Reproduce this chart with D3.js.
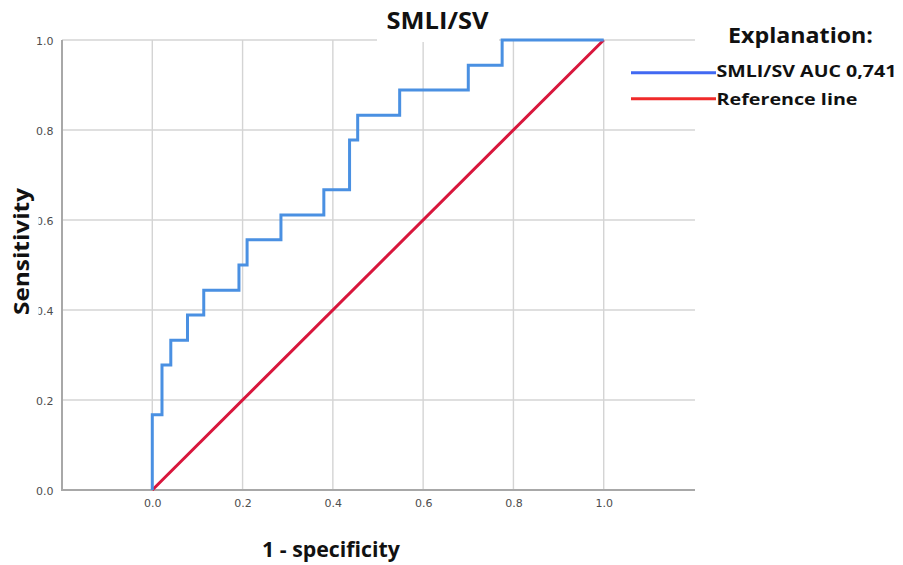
<!DOCTYPE html>
<html>
<head>
<meta charset="utf-8">
<script src="https://cdn.jsdelivr.net/npm/d3@7"></script>
<style>
  html, body { margin: 0; padding: 0; background: #fff; }
  svg { display: block; }
</style>
</head>
<body>
<svg id="chart" width="903" height="565"></svg>
<script>
// ROC curve coordinates (1 - specificity, sensitivity)
const fpr = [0, 0, 0.0215, 0.0215, 0.041, 0.041, 0.078, 0.078, 0.114, 0.114,
             0.192, 0.192, 0.21, 0.21, 0.285, 0.285, 0.38, 0.38, 0.437, 0.437,
             0.455, 0.455, 0.548, 0.548, 0.70, 0.70, 0.775, 0.775, 1.0];
const tpr = [0, 0.167, 0.167, 0.278, 0.278, 0.333, 0.333, 0.389, 0.389, 0.444,
             0.444, 0.5, 0.5, 0.556, 0.556, 0.611, 0.611, 0.667, 0.667, 0.778,
             0.778, 0.833, 0.833, 0.889, 0.889, 0.944, 0.944, 1.0, 1.0];
// Diagonal reference line
const refX = [0, 1];
const refY = [0, 1];

const xTicks = [0, 0.2, 0.4, 0.6, 0.8, 1.0];
const yTicks = [0, 0.2, 0.4, 0.6, 0.8, 1.0];

const titleText = "SMLI/SV";
const xTitle = "1 - specificity";
const yTitle = "Sensitivity";
const legendTitle = "Explanation:";
const legendLabels = ["SMLI/SV AUC 0,741", "Reference line"];

const svg = d3.select("#chart");
const plotLeft = 62, plotRight = 695, plotTop = 40, plotBottom = 490;

const x = d3.scaleLinear().domain([-0.2, 1.2]).range([plotLeft, 694]);
const y = d3.scaleLinear().domain([0, 1]).range([plotBottom, plotTop]);

// grid
const grid = svg.append("g").attr("stroke", "#d4d4d4").attr("stroke-width", 1.4);
grid.selectAll(".vg").data(xTicks).join("line")
  .attr("x1", d => x(d)).attr("x2", d => x(d))
  .attr("y1", plotTop).attr("y2", plotBottom);
grid.selectAll(".hg").data(yTicks.filter(d => d > 0)).join("line")
  .attr("x1", plotLeft).attr("x2", plotRight)
  .attr("y1", d => y(d)).attr("y2", d => y(d));

// axes
const xAxis = d3.axisBottom(x).tickValues(xTicks).tickFormat(d3.format(".1f")).tickSize(0).tickPadding(9.5);
const yAxis = d3.axisLeft(y).tickValues(yTicks).tickFormat(d3.format(".1f")).tickSize(0).tickPadding(8.5);

const gx = svg.append("g").attr("transform", `translate(0,${plotBottom})`).call(xAxis);
const gy = svg.append("g").attr("transform", `translate(${plotLeft},0)`).call(yAxis);
[gx, gy].forEach(g => {
  g.select(".domain").remove();
  g.selectAll("text").attr("font-family", "DejaVu Sans, sans-serif")
    .attr("font-size", 11).attr("fill", "#4d4d4d");
});
gy.selectAll("text").attr("dy", "0.45em");

svg.append("line").attr("x1", plotLeft).attr("x2", plotLeft).attr("y1", plotTop).attr("y2", plotBottom + 1)
  .attr("stroke", "#a8a8a8").attr("stroke-width", 2);
svg.append("line").attr("x1", plotLeft).attr("x2", plotRight).attr("y1", plotBottom).attr("y2", plotBottom)
  .attr("stroke", "#a8a8a8").attr("stroke-width", 2);

// title backing
svg.append("rect").attr("x", 377).attr("y", 0).attr("width", 122).attr("height", 42).attr("fill", "#fff");
// y-axis title backing
svg.append("rect").attr("x", 0).attr("y", 178).attr("width", 38.5).attr("height", 145).attr("fill", "#fff");

const line = d3.line().x(d => x(d[0])).y(d => y(d[1]));

// reference line
svg.append("path").datum(d3.zip(refX, refY)).attr("d", line)
  .attr("fill", "none").attr("stroke", "#d8163c").attr("stroke-width", 3);

// ROC curve
svg.append("path").datum(d3.zip(fpr, tpr)).attr("d", line)
  .attr("fill", "none").attr("stroke", "#4a90e2").attr("stroke-width", 3)
  .attr("stroke-linejoin", "miter");

const boldFont = "Open Sans, Noto Sans, sans-serif";
function boldText(sel, size, len) {
  return sel.attr("font-family", boldFont).attr("font-weight", 700).attr("font-size", size)
    .attr("fill", "#111").attr("textLength", len).attr("lengthAdjust", "spacingAndGlyphs");
}

boldText(svg.append("text").attr("x", 386.5).attr("y", 29.3), 24, 102).text(titleText);

boldText(svg.append("text").attr("transform", "translate(28.5,315) rotate(-90)"), 22, 127).text(yTitle);

boldText(svg.append("text").attr("x", 262).attr("y", 557), 22, 138).text(xTitle);

// legend
boldText(svg.append("text").attr("x", 728).attr("y", 43.3), 21, 145).text(legendTitle);

const legendColors = ["#4169f2", "#f02a2a"];
const legendY = [72.7, 98.7];
const legendBase = [76.7, 104.5];
const legendLen = [180, 141];
const lg = svg.append("g");
lg.selectAll("line").data(legendLabels).join("line")
  .attr("x1", 631).attr("x2", 716)
  .attr("y1", (d, i) => legendY[i]).attr("y2", (d, i) => legendY[i])
  .attr("stroke", (d, i) => legendColors[i]).attr("stroke-width", 3);
lg.selectAll("text").data(legendLabels).join("text")
  .attr("x", 716.5).attr("y", (d, i) => legendBase[i])
  .attr("font-family", boldFont).attr("font-weight", 700).attr("font-size", 16.5)
  .attr("fill", "#111")
  .attr("textLength", (d, i) => legendLen[i]).attr("lengthAdjust", "spacingAndGlyphs")
  .text(d => d);
</script>
</body>
</html>
